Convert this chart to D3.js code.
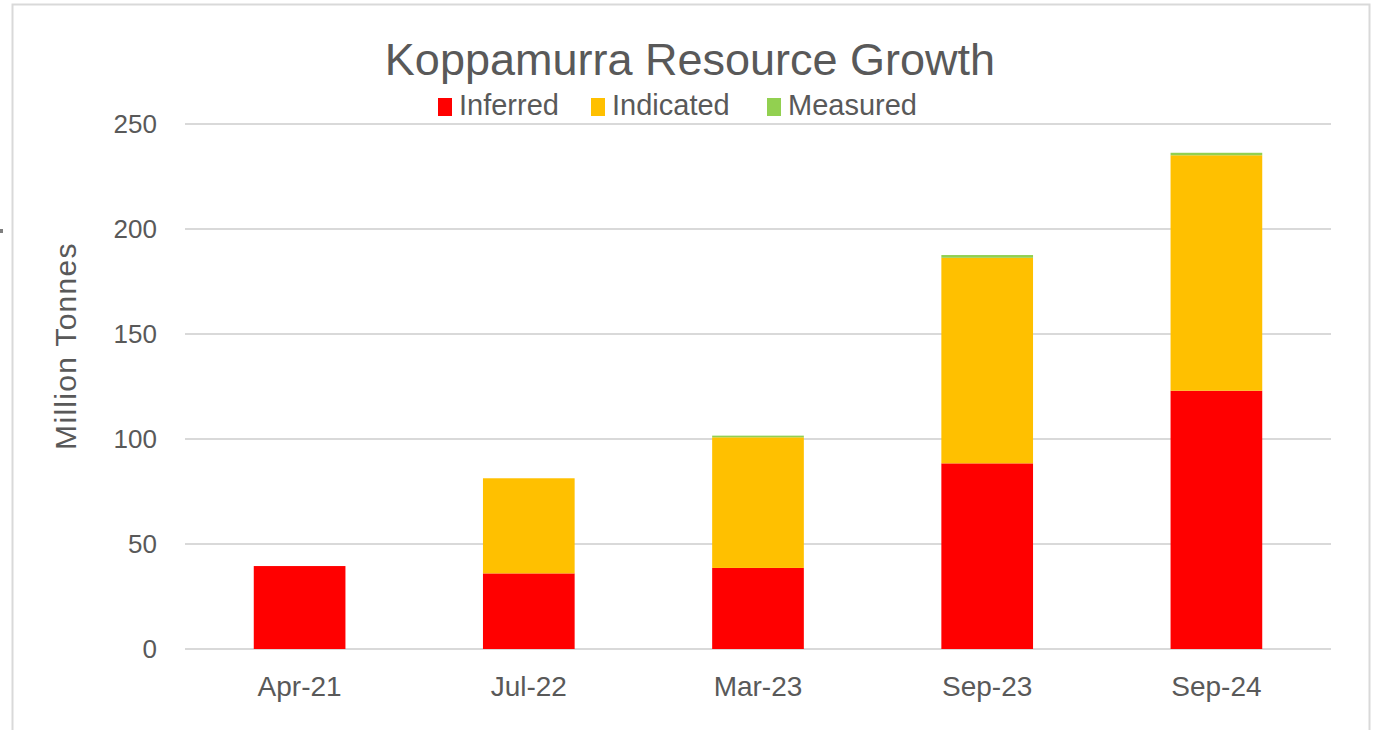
<!DOCTYPE html>
<html>
<head>
<meta charset="utf-8">
<script src="https://cdn.jsdelivr.net/npm/d3@7"></script>
<style>
  body { margin: 0; background: #fff; }
  text { font-family: "Liberation Sans", Arial, sans-serif; fill: #595959; }
</style>
</head>
<body>
<div id="chart"></div>
<script>
// data
const periods = ["Apr-21", "Jul-22", "Mar-23", "Sep-23", "Sep-24"];
const inferred = [39.5, 36.0, 38.6, 88.4, 123.0];
const indicated = [0, 45.3, 62.2, 97.9, 112.1];
const measured = [0, 0, 0.8, 1.3, 1.2];
const seriesNames = ["Inferred", "Indicated", "Measured"];
const yTicks = [0, 50, 100, 150, 200, 250];

const colors = {Inferred: "#FF0000", Indicated: "#FFC000", Measured: "#92D050"};

const W = 1373, H = 730;
const margin = {top: 124, right: 42, bottom: 81, left: 185};

const svg = d3.select("#chart").append("svg")
    .attr("width", W)
    .attr("height", H);

// chart frame
svg.append("rect")
    .attr("x", 12.5).attr("y", 4.5)
    .attr("width", 1357).attr("height", 740)
    .attr("fill", "none")
    .attr("stroke", "#D9D9D9")
    .attr("stroke-width", 2);

svg.append("rect")
    .attr("x", 0).attr("y", 229)
    .attr("width", 3).attr("height", 4)
    .attr("fill", "#7f7f7f");

const rows = periods.map((p, i) => ({
    period: p,
    Inferred: inferred[i],
    Indicated: indicated[i],
    Measured: measured[i]
}));

const x = d3.scaleBand()
    .domain(periods)
    .range([margin.left, W - margin.right])
    .paddingInner(0.6)
    .paddingOuter(0.3);

const y = d3.scaleLinear()
    .domain([0, 250])
    .range([H - margin.bottom, margin.top]);

// gridlines
svg.append("g")
    .selectAll("line")
    .data(yTicks)
    .join("line")
    .attr("x1", margin.left)
    .attr("x2", W - margin.right)
    .attr("y1", d => y(d))
    .attr("y2", d => y(d))
    .attr("stroke", "#D9D9D9")
    .attr("stroke-width", 2);

// y labels
svg.append("g")
    .selectAll("text")
    .data(yTicks)
    .join("text")
    .attr("x", 157)
    .attr("y", d => y(d))
    .attr("dy", "0.35em")
    .attr("text-anchor", "end")
    .style("font-size", "26px")
    .text(d => d);

// x labels
svg.append("g")
    .selectAll("text")
    .data(periods)
    .join("text")
    .attr("x", d => x(d) + x.bandwidth() / 2)
    .attr("y", 696)
    .attr("text-anchor", "middle")
    .style("font-size", "28px")
    .text(d => d);

// stacked bars
const stack = d3.stack().keys(seriesNames);
const layers = stack(rows);

svg.append("g")
    .selectAll("g")
    .data(layers)
    .join("g")
    .attr("fill", d => colors[d.key])
    .selectAll("rect")
    .data(d => d)
    .join("rect")
    .attr("x", d => x(d.data.period))
    .attr("width", x.bandwidth())
    .attr("y", d => y(d[1]))
    .attr("height", d => y(d[0]) - y(d[1]));

// axis title
svg.append("text")
    .attr("transform", "translate(76,346) rotate(-90)")
    .attr("text-anchor", "middle")
    .style("font-size", "30px")
    .style("letter-spacing", "1.3px")
    .text("Million Tonnes");

// title
svg.append("text")
    .attr("x", 690)
    .attr("y", 75)
    .attr("text-anchor", "middle")
    .style("font-size", "45px")
    .text("Koppamurra Resource Growth");

// legend
const legendX = [438, 591, 767];
const legend = svg.append("g")
    .selectAll("g")
    .data(seriesNames)
    .join("g")
    .attr("transform", (d, i) => `translate(${legendX[i]},0)`);

legend.append("rect")
    .attr("x", 0).attr("y", 98)
    .attr("width", 14).attr("height", 18)
    .attr("fill", d => colors[d]);

legend.append("text")
    .attr("x", 21)
    .attr("y", 115)
    .style("font-size", "29px")
    .text(d => d);
</script>
</body>
</html>
